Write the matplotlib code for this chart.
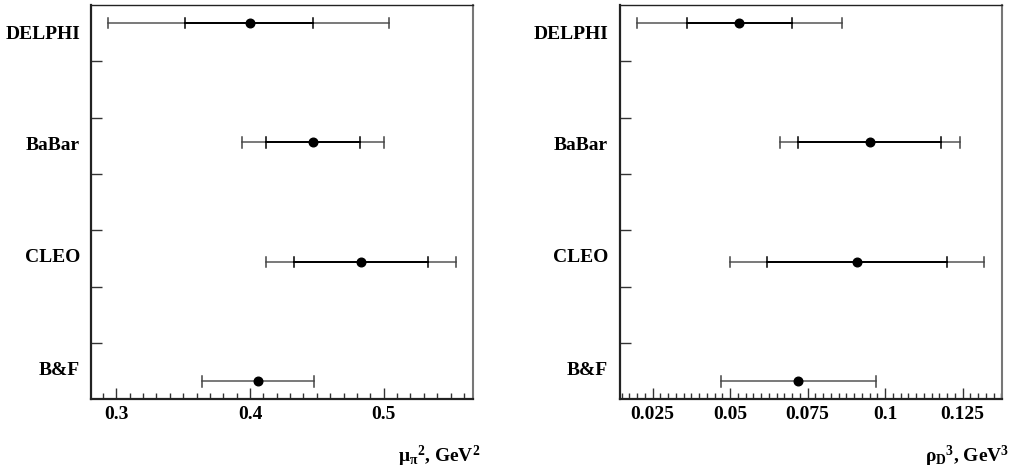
import matplotlib
matplotlib.use("Agg")
import matplotlib.pyplot as plt
from matplotlib.ticker import MultipleLocator, FixedLocator, NullFormatter
import numpy as np

# ---------------- data ----------------
experiments = ["DELPHI", "BaBar", "CLEO", "B&F"]
# mu_pi^2 (GeV^2)
mu_val = [0.400, 0.447, 0.483, 0.406]
mu_stat_lo = [0.351, 0.412, 0.433, None]
mu_stat_hi = [0.447, 0.482, 0.533, None]
mu_tot_lo = [0.294, 0.394, 0.412, 0.364]
mu_tot_hi = [0.504, 0.500, 0.554, 0.448]
# rho_D^3 (GeV^3)
rho_val = [0.053, 0.095, 0.091, 0.072]
rho_stat_lo = [0.036, 0.072, 0.062, None]
rho_stat_hi = [0.070, 0.118, 0.120, None]
rho_tot_lo = [0.020, 0.066, 0.050, 0.047]
rho_tot_hi = [0.086, 0.124, 0.132, 0.097]

mu_ticks = [0.3, 0.4, 0.5]
mu_ticklabels = ["0.3", "0.4", "0.5"]
rho_ticks = [0.025, 0.05, 0.075, 0.1, 0.125]
rho_ticklabels = ["0.025", "0.05", "0.075", "0.1", "0.125"]

plt.rcParams['font.family'] = ['Liberation Serif', 'DejaVu Serif']
plt.rcParams['font.weight'] = 'bold'
plt.rcParams['mathtext.fontset'] = 'custom'
plt.rcParams['mathtext.rm'] = 'Liberation Serif:bold'
plt.rcParams['mathtext.it'] = 'Liberation Serif:bold'
plt.rcParams['mathtext.bf'] = 'Liberation Serif:bold'

fig = plt.figure(figsize=(10.12, 4.71), dpi=100)
ax1 = fig.add_axes([0.0896, 0.1522, 0.3775, 0.8372])
ax2 = fig.add_axes([0.6126, 0.1522, 0.3775, 0.8372])

ypos = [3, 2, 1, 0]
ylo, yhi = -0.15, 3.15
label_frac = [0.9264, 0.6425, 0.3585, 0.0743]
FS = 14


def panel(ax, vals, slo, shi, tlo, thi, xlim, ticks, ticklabels, minor, label_right, xlabel):
    for y, v, a, b, c, d in zip(ypos, vals, slo, shi, tlo, thi):
        # total error bar
        ax.plot([c, d], [y, y], color='#555555', lw=1.1, zorder=2)
        ax.plot([c, c], [y - 0.045, y + 0.045], color='#444444', lw=1.1, zorder=2)
        ax.plot([d, d], [y - 0.045, y + 0.045], color='#444444', lw=1.1, zorder=2)
        if a is not None:
            ax.plot([a, b], [y, y], color='black', lw=1.4, zorder=3)
            ax.plot([a, a], [y - 0.045, y + 0.045], color='black', lw=1.1, zorder=3)
            ax.plot([b, b], [y - 0.045, y + 0.045], color='black', lw=1.1, zorder=3)
        ax.plot([v], [y], 'o', color='black', ms=6.2, zorder=4)
    ax.set_xlim(*xlim)
    ax.set_ylim(ylo, yhi)
    ax.xaxis.set_major_locator(FixedLocator(ticks))
    ax.set_xticklabels(ticklabels, fontsize=FS, fontweight='bold')
    ax.xaxis.set_minor_locator(MultipleLocator(minor))
    yt = [ylo + k * (yhi - ylo) / 7 for k in range(1, 7)]
    ax.yaxis.set_major_locator(FixedLocator(yt))
    ax.yaxis.set_major_formatter(NullFormatter())
    ax.tick_params(axis='both', which='major', direction='in', length=8, width=1.0, color='#333333')
    ax.tick_params(axis='x', which='minor', direction='in', length=4.5, width=1.0, color='#333333')
    ax.tick_params(axis='x', which='major', pad=5)
    ax.tick_params(top=False, right=False)
    for s in ['left', 'bottom']:
        ax.spines[s].set_linewidth(1.6)
        ax.spines[s].set_color('#222222')
    ax.spines['top'].set_linewidth(1.0)
    ax.spines['top'].set_color('#222222')
    ax.spines['right'].set_linewidth(1.5)
    ax.spines['right'].set_color('#777777')
    for name, f in zip(experiments, label_frac):
        fig.text(label_right, ax.get_position().y0 + f * ax.get_position().height, name,
                 ha='right', va='center', fontsize=FS, fontweight='bold')
    fig.text(xlabel[0], xlabel[1], xlabel[2], ha='right', va='center', fontsize=FS, fontweight='bold')


panel(ax1, mu_val, mu_stat_lo, mu_stat_hi, mu_tot_lo, mu_tot_hi, (0.2808, 0.5666),
      mu_ticks, mu_ticklabels, 0.01, 80 / 1012,
      (480 / 1012, 1 - 456 / 471, r'$\mu_{\pi}{}^{2}$, GeV$^{2}$'))
panel(ax2, rho_val, rho_stat_lo, rho_stat_hi, rho_tot_lo, rho_tot_hi, (0.01446, 0.1377),
      rho_ticks, rho_ticklabels, 0.0025, 608 / 1012,
      (1009 / 1012, 1 - 456 / 471, r'$\rho_{D}{}^{3}$, GeV$^{3}$'))

fig.savefig("out.png", dpi=100)
